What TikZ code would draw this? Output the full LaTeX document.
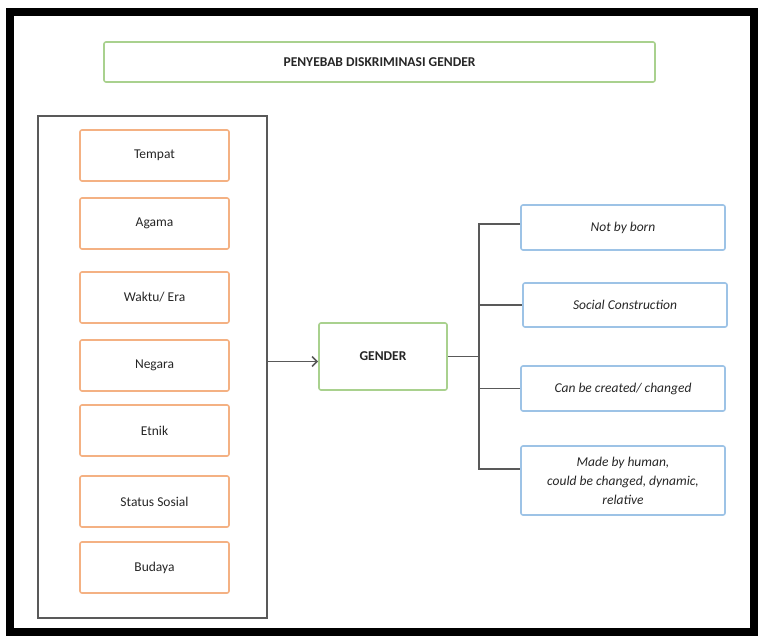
\documentclass[tikz,border=0pt]{standalone}
\usepackage{fontspec}
\setmainfont{Carlito}
\usetikzlibrary{positioning,arrows.meta}
\definecolor{boxorange}{HTML}{F4B183}
\definecolor{boxgreen}{HTML}{A9D18E}
\definecolor{boxblue}{HTML}{9DC3E6}
\definecolor{linegray}{HTML}{595959}

\begin{document}
\begin{tikzpicture}[x=1pt,y=-1pt,
	every node/.style={font=\fontsize{13.5}{19}\selectfont, text=black!85},
	faktor/.style={draw=boxorange, line width=1.6pt, rounded corners=2pt, minimum width=149pt, minimum height=51pt, inner sep=0pt},
	ciri/.style={draw=boxblue, line width=1.6pt, rounded corners=2pt, minimum width=204pt, inner sep=0pt, align=center, font=\fontsize{13.5}{19}\selectfont\itshape},
	hijau/.style={draw=boxgreen, line width=1.6pt, rounded corners=2pt, inner sep=0pt, font=\fontsize{13.5}{19}\selectfont\bfseries},
	garis/.style={draw=linegray, line width=1.6pt}]
		\useasboundingbox (0,0) rectangle (758,637);
		% bingkai luar
		\draw [line width=8pt] (10,12) rectangle (754,632);
		% judul
		\node [hijau, minimum width=551pt, minimum height=40pt] (judul) at (379.5,62) {PENYEBAB DISKRIMINASI GENDER};
		% kotak penyebab
		\node [garis, draw, minimum width=229pt, minimum height=502pt, inner sep=0pt] (kiri) at (152.5,367) {};
		\node [faktor] (tempat) at (154.5,155.5) {Tempat};
		\node [faktor] (agama) at (154.5,223.5) {Agama};
		\node [faktor] (waktu) at (154.5,297.5) {Waktu/ Era};
		\node [faktor] (negara) at (154.5,365.5) {Negara};
		\node [faktor] (etnik) at (154.5,430.5) {Etnik};
		\node [faktor] (status) at (154.5,501.5) {Status Sosial};
		\node [faktor] (budaya) at (154.5,567.5) {Budaya};
		% gender
		\node [hijau, minimum width=128pt, minimum height=67pt] (gender) at (383,356.5) {GENDER};
		% ciri gender
		\node [ciri, minimum height=45pt] (ciri1) at (623,227.5) {Not by born};
		\node [ciri, minimum height=44pt] (ciri2) at (625,305) {Social Construction};
		\node [ciri, minimum height=45pt] (ciri3) at (623,388.5) {Can be created/ changed};
		\node [ciri, minimum height=69pt] (ciri4) at (623,480.5) {Made by human,\\could be changed, dynamic,\\relative};
		% panah dan garis
		\draw [garis, -{Straight Barb[length=5pt,width=10pt]}] ([yshift=-5pt]gender.west -| kiri.east) -- ([yshift=-5pt]gender.west);
		\coordinate (atas) at (479,224);
		\coordinate (bawah) at (479,469);
		\draw [garis] (gender.east) -- (gender.east -| atas);
		\draw [garis] (ciri1.west |- atas) -- (atas) -- (bawah) -- (ciri4.west |- bawah);
		\draw [garis] (atas |- ciri2.west) -- (ciri2.west);
		\draw [garis] (atas |- ciri3.west) -- (ciri3.west);
	\end{tikzpicture}
\end{document}
